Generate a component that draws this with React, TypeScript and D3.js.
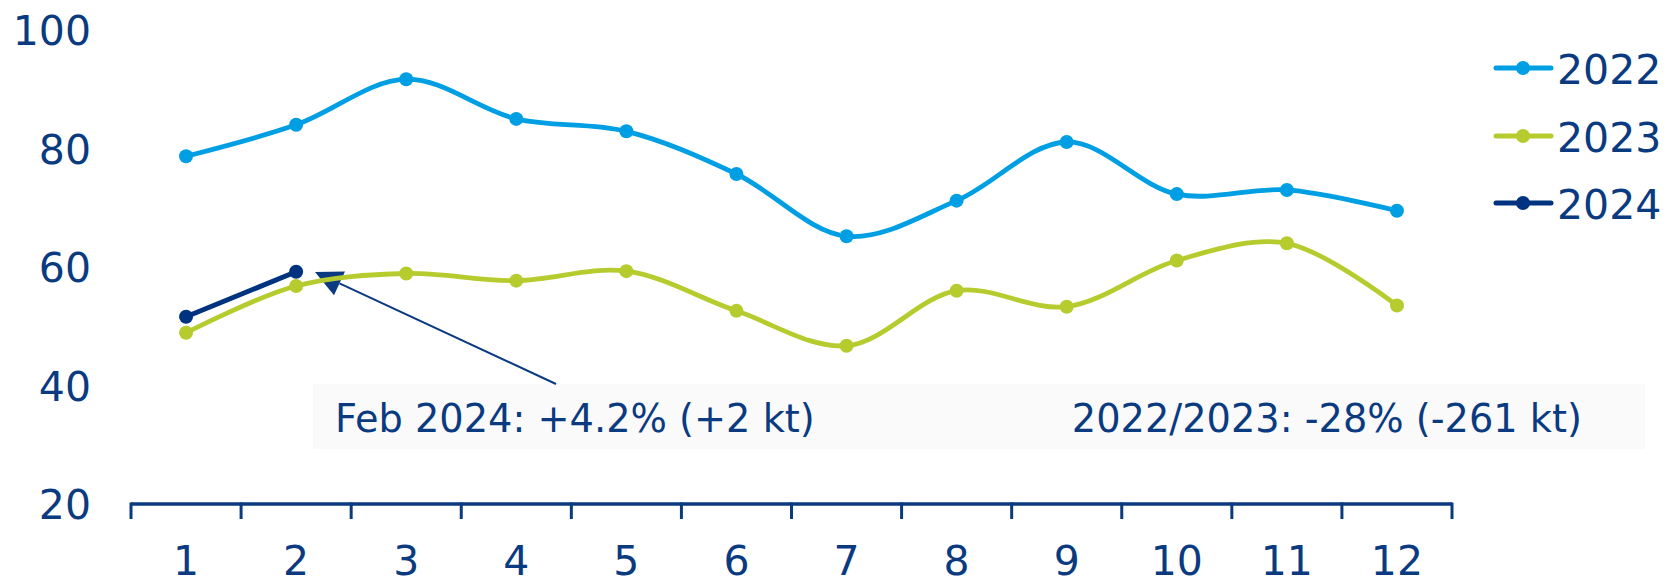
import React from "react";
import * as d3 from "d3";

const months = [1, 2, 3, 4, 5, 6, 7, 8, 9, 10, 11, 12];
const seriesNames = ["2022", "2023", "2024"];
const values2022 = [78.7, 84, 91.7, 85, 82.9, 75.7, 65.2, 71.2, 81.1, 72.3, 73, 69.5];
const values2023 = [48.9, 56.8, 58.9, 57.7, 59.3, 52.6, 46.7, 56, 53.3, 61.1, 64, 53.5];
const values2024 = [51.6, 59.2];
const yTicks = [20, 40, 60, 80, 100];
const annotationLeft = "Feb 2024: +4.2% (+2 kt)";
const annotationRight = "2022/2023: -28% (-261 kt)";

const COLORS = ["#009FE3", "#B6CC2E", "#00337F"];
const TEXT = "#0A3A80";
const FONT = "'DejaVu Sans', Verdana, sans-serif";

export default function App() {
  const W = 1678, H = 581;
  const x = d3.scaleBand<number>().domain(months).range([131, 1452]).padding(0);
  const xc = (m: number) => (x(m) as number) + x.bandwidth() / 2;
  const y = d3.scaleLinear().domain([20, 100]).range([504, 30]);

  const all = [values2022, values2023, values2024];
  const smooth = d3
    .line<number>()
    .x((_, i) => xc(months[i]))
    .y((d) => y(d))
    .curve(d3.curveCatmullRom.alpha(0.5));
  const straight = d3
    .line<number>()
    .x((_, i) => xc(months[i]))
    .y((d) => y(d));

  const tickEdges = months.map((m) => x(m) as number).concat([x.range()[1]]);

  // arrow
  const ax0 = 556, ay0 = 384, tipX = 315, tipY = 272;
  const dx = ax0 - tipX, dy = ay0 - tipY;
  const len = Math.sqrt(dx * dx + dy * dy);
  const ux = dx / len, uy = dy / len;
  const hl = 27, hw = 13;
  const bx = tipX + ux * hl, by = tipY + uy * hl;
  const tri = [
    [tipX, tipY],
    [bx - uy * hw, by + ux * hw],
    [bx + uy * hw, by - ux * hw],
  ];

  const legendY = [68, 136, 203];

  return (
    <svg
      width={W}
      height={H}
      style={{ position: "absolute", left: 0, top: 0, background: "#fff" }}
      fontFamily={FONT}
    >
      {/* annotation box */}
      <rect x={313} y={384} width={1645 - 313} height={449 - 384} fill="#FAFAFA" />
      <text x={335} y={432} fontSize={38.3} fill={TEXT}>{annotationLeft}</text>
      <text x={1582} y={432} fontSize={38.3} fill={TEXT} textAnchor="end">{annotationRight}</text>

      {/* y labels */}
      {yTicks.map((t) => (
        <text key={t} x={91} y={y(t) + 15} fontSize={41} fill={TEXT} textAnchor="end">{t}</text>
      ))}

      {/* x axis */}
      <line x1={tickEdges[0]} x2={tickEdges[tickEdges.length - 1]} y1={y(20)} y2={y(20)} stroke={TEXT} strokeWidth={3.5} />
      {tickEdges.map((t, i) => (
        <line key={i} x1={t} x2={t} y1={y(20) - 1.5} y2={y(20) + 15} stroke={TEXT} strokeWidth={3} />
      ))}
      {months.map((m) => (
        <text key={m} x={xc(m)} y={575} fontSize={41} fill={TEXT} textAnchor="middle">{m}</text>
      ))}

      {/* arrow */}
      <line x1={ax0} y1={ay0} x2={bx} y2={by} stroke={TEXT} strokeWidth={2} />
      <polygon points={tri.map((p) => p.join(",")).join(" ")} fill={TEXT} />

      {/* series */}
      {all.map((vals, si) => (
        <g key={si}>
          <path
            d={(si === 2 ? straight : smooth)(vals) as string}
            fill="none"
            stroke={COLORS[si]}
            strokeWidth={si === 2 ? 5 : 4.8}
            strokeLinejoin="round"
          />
          {vals.map((v, i) => (
            <circle key={i} cx={xc(months[i])} cy={y(v)} r={7} fill={COLORS[si]} />
          ))}
        </g>
      ))}

      {/* legend */}
      {seriesNames.map((name, i) => (
        <g key={name}>
          <line x1={1496} x2={1551} y1={legendY[i]} y2={legendY[i]} stroke={COLORS[i]} strokeWidth={5} strokeLinecap="round" />
          <circle cx={1523} cy={legendY[i]} r={7} fill={COLORS[i]} />
          <text x={1557} y={legendY[i] + 16} fontSize={41} fill={TEXT}>{name}</text>
        </g>
      ))}
    </svg>
  );
}
